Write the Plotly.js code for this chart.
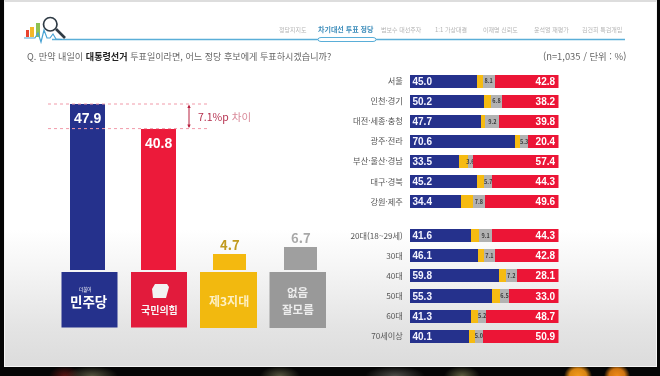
<!DOCTYPE html>
<html lang="ko"><head><meta charset="utf-8">
<script src="https://cdn.plot.ly/plotly-3.0.1.min.js"></script>
<style>
html,body{margin:0;padding:0;width:660px;height:376px;overflow:hidden;background:#050505}
#strip{position:absolute;left:0;top:0;width:660px;height:376px;background:
 radial-gradient(ellipse 14px 12px at 578px 376px,#f39a1c 0%,#d98512 60%,transparent 100%),
 radial-gradient(ellipse 13px 12px at 617px 376px,#f08a18 0%,#cf7410 60%,transparent 100%),
 radial-gradient(ellipse 26px 10px at 92px 376px,#55553f 0%,transparent 100%),
 radial-gradient(ellipse 16px 10px at 65px 376px,#5a1512 0%,transparent 100%),
 radial-gradient(ellipse 20px 10px at 280px 376px,#55553f 0%,transparent 100%),
 radial-gradient(ellipse 30px 10px at 395px 376px,#4d4d48 0%,transparent 100%),
 radial-gradient(ellipse 18px 10px at 462px 376px,#5e5f40 0%,transparent 100%),#050505}
#panel{position:absolute;left:4px;top:0;width:653px;height:367px;box-sizing:border-box;border:1px solid #f4f4f4;border-top:2px solid #dddddd;
 background:linear-gradient(to bottom,#ffffff 0px,#ffffff 228px,#f4f4f4 270px,#e4e4e4 325px,#dbdbdb 367px)}
#chart{position:absolute;left:0;top:0;width:660px;height:376px;filter:blur(.45px)}
</style></head><body>
<div id="strip"></div><div id="panel"></div><div id="chart"></div>
<script>
const partyNames=['민주당','국민의힘','제3지대','없음/잘모름'];
const partyValues=[47.9,40.8,4.7,6.7];
const regionNames=['서울','인천·경기','대전·세종·충청','광주·전라','부산·울산·경남','대구·경북','강원·제주'];
const regionDem=[45.0,50.2,47.7,70.6,33.5,45.2,34.4];
const regionThird=[4.1,4.8,3.3,3.7,5.5,4.8,8.2];
const regionNone=[8.1,6.8,9.2,5.3,3.6,5.7,7.8];
const regionPpp=[42.8,38.2,39.8,20.4,57.4,44.3,49.6];
const ageNames=['20대(18~29세)','30대','40대','50대','60대','70세이상'];
const ageDem=[41.6,46.1,59.8,55.3,41.3,40.1];
const ageThird=[5.0,4.0,4.9,5.2,4.8,4.0];
const ageNone=[9.1,7.1,7.2,6.5,5.2,5.0];
const agePpp=[44.3,42.8,28.1,33.0,48.7,50.9];
const navLabels=['정당지지도','차기대선 투표 정당','범보수 대선주자','1:1 가상대결','이재명 신뢰도','윤석열 재평가','김건희 특검개입'];
const navCenters=[293,346,401,451,500,551,602];

const FONT='"Noto Sans CJK KR","Noto Sans",sans-serif';
const NUM='"Liberation Sans",sans-serif';
const C={blue:'#25318c',red:'#ec1536',yellow:'#f6bb12',gray:'#b2b2b2'};
const W=660,H=376;
const px=x=>x/W, py=y=>1-y/H;
const dom=(a,b)=>[a/W,b/W], vdom=(top,bot)=>[1-bot/H,1-top/H];
const fmt=a=>a.map(v=>v.toFixed(1));

const big=new Set([0,1]);
const traces=[{
  type:'bar',x:partyNames,y:partyValues,xaxis:'x',yaxis:'y',
  width:partyNames.map((_,i)=>big.has(i)?0.5:0.47),
  marker:{color:['#25318c','#ec1a3a','#f4b90f','#9f9f9f']},
  textposition:'none',hoverinfo:'skip',showlegend:false
}];
function stack(names,dem,third,none,ppp,xa,ya){
  const base={type:'bar',orientation:'h',y:names,xaxis:xa,yaxis:ya,hoverinfo:'skip',showlegend:false,constraintext:'none',cliponaxis:false,textangle:0};
  traces.push({...base,x:dem,marker:{color:C.blue},text:fmt(dem),textposition:'inside',insidetextanchor:'start',textfont:{family:NUM,size:10,color:'#f4f4ff',weight:700}});
  traces.push({...base,x:third,marker:{color:C.yellow},textposition:'none'});
  traces.push({...base,x:none,marker:{color:C.gray},text:fmt(none),textposition:'inside',insidetextanchor:'middle',textfont:{family:FONT,size:5.5,color:'#3c3c3c',weight:700}});
  traces.push({...base,x:ppp,marker:{color:C.red},text:fmt(ppp),textposition:'inside',insidetextanchor:'end',textfont:{family:NUM,size:10,color:'#ffffff',weight:700}});
}
stack(regionNames,regionDem,regionThird,regionNone,regionPpp,'x2','y2');
stack(ageNames,ageDem,ageThird,ageNone,agePpp,'x3','y3');

const P=(extra)=>Object.assign({xref:'paper',yref:'paper'},extra);
const rect=(x0,y0,x1,y1,fill)=>P({type:'rect',x0:px(x0),x1:px(x1),y0:py(y0),y1:py(y1),fillcolor:fill,line:{width:0}});
const seg=(x0,y0,x1,y1,color,width,dash)=>P({type:'line',x0:px(x0),x1:px(x1),y0:py(y0),y1:py(y1),line:{color,width,dash:dash||'solid'}});
const poly=(pts,fill)=>P({type:'path',path:'M'+pts.map(p=>px(p[0])+','+py(p[1])).join(' L')+' Z',fillcolor:fill,line:{width:0}});
const open=(pts,color,width)=>P({type:'path',path:'M'+pts.map(p=>px(p[0])+','+py(p[1])).join(' L'),line:{color,width}});

const shapes=[
  seg(52,39.5,625,39.5,'#5aaed8',1.5),
  P({type:'path',path:`M${px(321)},${py(37.5)} L${px(373)},${py(37.5)} Q${px(376)},${py(37.5)} ${px(376)},${py(39.5)} Q${px(376)},${py(41.5)} ${px(373)},${py(41.5)} L${px(321)},${py(41.5)} Q${px(318)},${py(41.5)} ${px(318)},${py(39.5)} Q${px(318)},${py(37.5)} ${px(321)},${py(37.5)} Z`,fillcolor:'#ffffff',line:{color:'#5aaed8',width:1}}),
  rect(26,30,29,37,'#e8432e'),rect(30,27,34,37,'#f3b72a'),rect(36,23,40,37,'#8cc152'),
  open([[24,38],[35,38],[38,33],[41,42],[44,30],[47,38],[50,38],[53,34],[56,39],[62,39.5]],'#4aa3d4',1.2),
  P({type:'circle',x0:px(43.5),x1:px(57),y0:py(31),y1:py(17.5),fillcolor:'rgba(255,255,255,0.35)',line:{color:'#2f3b45',width:1.7}}),
  seg(56,29,65,38,'#2f3b45',2.6),
  rect(61.5,272,117.5,327.5,'#25318c'),rect(131,272,187,327.5,'#e21b3c'),
  rect(200,272,257,328,'#f2b90f'),rect(269.5,272,326,328,'#999999'),
  poly([[155,284],[167,284],[169,287],[166,298],[153,298],[152,289]],'#f2f2f2'),
  seg(48,104,207,104,'#f19aa9',1,'dot'),seg(48,128.6,207,128.6,'#f19aa9',1,'dot'),
  seg(189,106,189,127,'#b8203f',1),
  poly([[189,104.5],[187.3,108],[190.7,108]],'#b8203f'),poly([[189,128],[187.3,124.5],[190.7,124.5]],'#b8203f')
];

const ann=(x,y,text,size,color,opts)=>Object.assign({xref:'paper',yref:'paper',x:px(x),y:py(y),text,showarrow:false,
  font:{family:FONT,size,color},xanchor:'center',yanchor:'middle'},opts||{});
const valueColors=['#ffffff','#ffffff','#c19a1e','#a8a8a8'];
const valueLabels=partyValues.map((v,i)=>({xref:'x',yref:'y',x:partyNames[i],y:v,text:'<b>'+v.toFixed(1)+'</b>',showarrow:false,
  xanchor:'center',yanchor:big.has(i)?'top':'bottom',yshift:big.has(i)?-4:-2,
  font:{family:big.has(i)?NUM:FONT,size:big.has(i)?14:13,color:valueColors[i]}}));
const annotations=[
  ...valueLabels,
  ...navLabels.map((t,i)=>ann(navCenters[i],29,i===1?'<b>'+t+'</b>':t,i===1?7:6,i===1?'#3d8dbb':'#b4b4b4')),
  ann(25,56.5,'Q. 만약 내일이 <b style="color:#222">대통령선거</b> 투표일이라면, 어느 정당 후보에게 투표하시겠습니까?',9.1,'#666666',{xanchor:'left'}),
  ann(628,56.5,'(n=1,035 / 단위 : %)',9.4,'#666666',{xanchor:'right'}),
  ann(196,116,'<span style="color:#b5304e">7.1%p</span> <span style="color:#d98a9a">차이</span>',10.5,'#b5304e',{xanchor:'left'}),
  ann(85,289.5,'더불어',4.5,'#ffffff'),
  ann(89,300.5,'<b>민주당</b>',13.5,'#ffffff'),
  ann(159,309,'<b>국민의힘</b>',10,'#f7f7f7'),
  ann(228.5,300,'<b>제3지대</b>',12,'#fdf0c4'),
  ann(298,291.5,'<b>없음</b>',11.5,'#ececec'),
  ann(298,309,'<b>잘모름</b>',11.5,'#ececec')
];

const hidden={visible:false,fixedrange:true};
const catAxis=(top,bot,n,x)=>({domain:vdom(top,bot),anchor:x,type:'category',range:[n-0.5,-0.5],showgrid:false,zeroline:false,showline:false,
  ticks:'outside',ticklen:4,tickwidth:0,tickcolor:'rgba(0,0,0,0)',tickfont:{family:FONT,size:8.2,color:'#555555'},automargin:false,fixedrange:true});
const layout={
  width:W,height:H,margin:{l:0,r:0,t:0,b:0},paper_bgcolor:'rgba(0,0,0,0)',plot_bgcolor:'rgba(0,0,0,0)',
  barmode:'stack',bargap:0.35,showlegend:false,shapes,annotations,
  xaxis:{...hidden,domain:dom(16.5,371.5),range:[-1,4],type:'category',categoryorder:'array',categoryarray:partyNames,anchor:'y'},
  yaxis:{...hidden,domain:vdom(96.7,270),range:[0,50],anchor:'x'},
  xaxis2:{...hidden,domain:dom(409.5,558.5),range:[0,100],anchor:'y2'},
  yaxis2:catAxis(71.4,211.7,regionNames.length,'x2'),
  xaxis3:{...hidden,domain:dom(409.5,558.5),range:[0,100],anchor:'y3'},
  yaxis3:catAxis(225.65,346.25,ageNames.length,'x3')
};
Plotly.newPlot('chart',traces,layout,{displayModeBar:false,staticPlot:true});
</script></body></html>
